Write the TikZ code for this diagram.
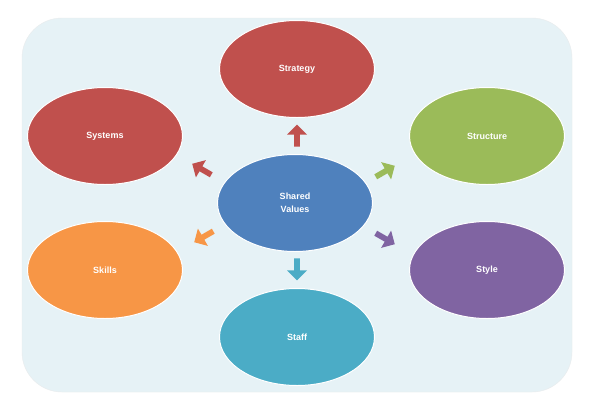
\documentclass[tikz,border=0pt]{standalone}
\usepackage{fontspec}
\setmainfont{Liberation Sans}
\usetikzlibrary{shapes.arrows,shapes.geometric}
\definecolor{cred}{HTML}{C0504D}
\definecolor{cgreen}{HTML}{9BBB59}
\definecolor{cpurple}{HTML}{8064A2}
\definecolor{cteal}{HTML}{4BACC6}
\definecolor{corange}{HTML}{F79646}
\definecolor{cblue}{HTML}{4F81BD}
\definecolor{cbg}{HTML}{E6F2F6}
\begin{document}
\begin{tikzpicture}[x=1pt,y=-1pt,
  blob/.style={ellipse,minimum width=155pt,minimum height=97pt,text=white,font=\bfseries\small,align=center,draw=white,line width=1pt},
  barrow/.style={single arrow,minimum height=22pt,minimum width=20pt,single arrow head extend=3pt,inner sep=1pt}]
\useasboundingbox (0,0) rectangle (600,400);
\fill[white] (0,0) rectangle (600,400);
\draw[cbg!70!gray!40, fill=cbg, rounded corners=40pt] (22,18) rectangle (572,392);
\node[blob,fill=cred] (strategy) at (297,69) {Strategy};
\node[blob,fill=cred] (systems) at (105,136) {Systems};
\node[blob,fill=cgreen] (structure) at (487,136) {Structure};
\node[blob,fill=cblue] (shared) at (295,203) {Shared\\[2pt]Values};
\node[blob,fill=corange] (skills) at (105,270) {Skills};
\node[blob,fill=cpurple] (style) at (487,270) {Style};
\node[blob,fill=cteal] (staff) at (297,337) {Staff};
\node[barrow,fill=cred,rotate=90] (a1) at (297,137) {};
\node[barrow,fill=cgreen,rotate=30] (a2) at (384,172) {};
\node[barrow,fill=cpurple,rotate=-30] (a3) at (384,238) {};
\node[barrow,fill=cteal,rotate=-90] (a4) at (297,268) {};
\node[barrow,fill=corange,rotate=210] (a5) at (205,236) {};
\node[barrow,fill=cred,rotate=150] (a6) at (203,170) {};
\end{tikzpicture}
\end{document}
